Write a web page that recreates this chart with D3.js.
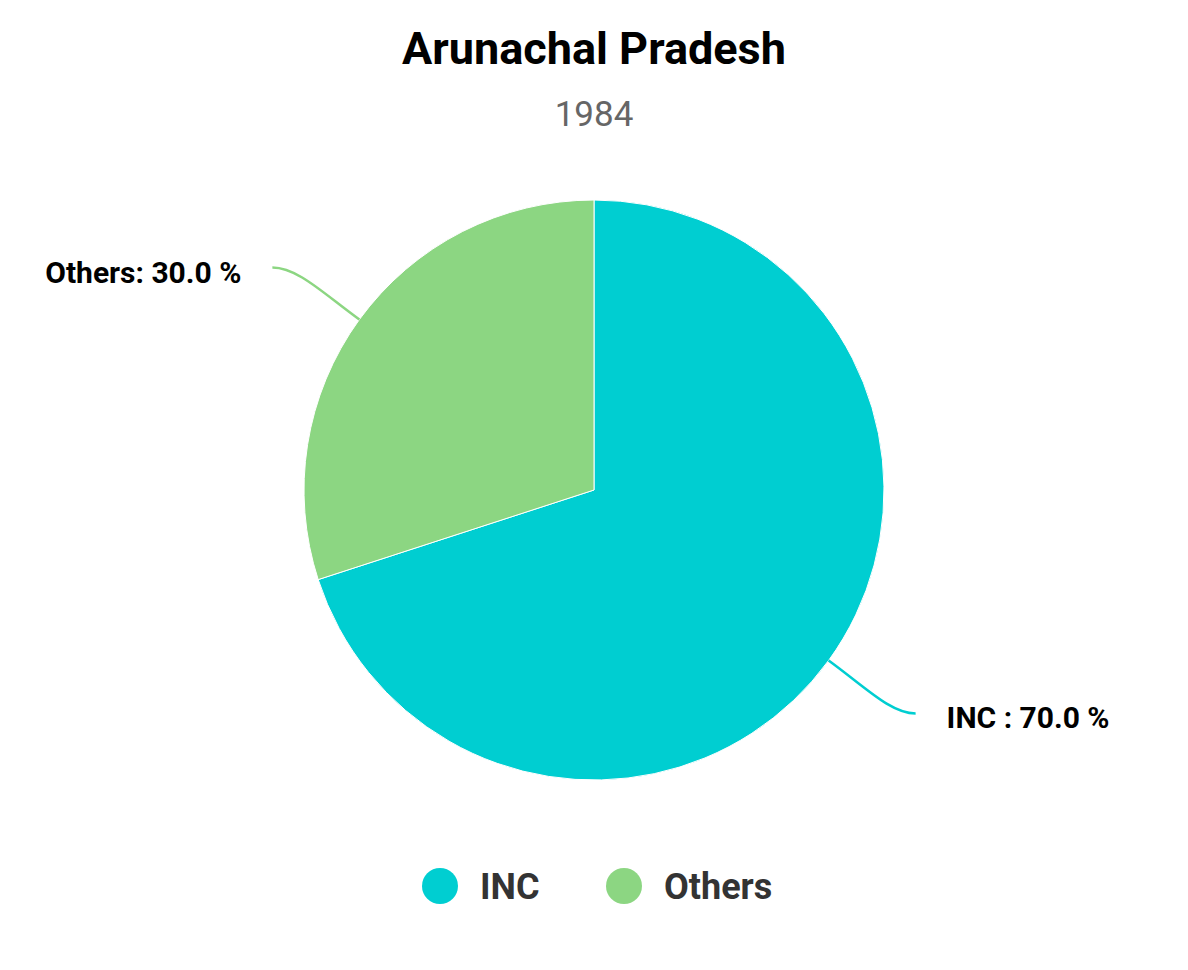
<html>
<head>
<style>
body { margin: 0; background: #fff; }
text { font-family: Roboto, "Noto Sans", sans-serif; }
.title { font-size: 45px; font-weight: bold; fill: #000; }
.subtitle { font-size: 35px; fill: #666; }
.lbl { font-size: 30px; font-weight: bold; fill: #000; }
.leg { font-size: 36px; font-weight: bold; fill: #333; }
</style>
</head>
<body>
<svg width="1188" height="970"></svg>
<script src="https://d3js.org/d3.v7.min.js"></script>
<script>
const parties = ["INC", "Others"]
const shares = [70.0, 30.0]
const colors = ["#00CED1", "#8CD682"]
const labelFmt = ["INC : 70.0 %", "Others: 30.0 %"]

const svg = d3.select('svg')
const cx = 594, cy = 490, r = 290

svg.append('text').attr('class', 'title')
    .attr('x', cx).attr('y', 64).attr('text-anchor', 'middle')
    .text('Arunachal Pradesh')
svg.append('text').attr('class', 'subtitle')
    .attr('x', cx).attr('y', 126).attr('text-anchor', 'middle')
    .text('1984')

const data = parties.map((p, i) => ({ party: p, value: shares[i], color: colors[i], label: labelFmt[i] }))

const pie = d3.pie().value(d => d.value).sort(null)
const arc = d3.arc().innerRadius(0).outerRadius(r)
const arcs = pie(data)

const g = svg.append('g').attr('transform', `translate(${cx},${cy})`)

g.selectAll('.slice')
    .data(arcs)
    .enter().append('path')
    .attr('class', 'slice')
    .attr('d', arc)
    .attr('fill', d => d.data.color)
    .attr('stroke', '#fff')
    .attr('stroke-width', 1)

// connector lines + labels
arcs.forEach(a => {
    const mid = (a.startAngle + a.endAngle) / 2
    const sx = Math.sin(mid), sy = -Math.cos(mid)
    const x0 = sx * r, y0 = sy * r
    const side = sx >= 0 ? 1 : -1
    const ex = x0 + side * 87
    const ey = y0 + (sy > 0 ? 53 : -52)
    const path = d3.path()
    path.moveTo(x0, y0)
    path.bezierCurveTo(x0 + sx * 45, y0 + sy * 45, ex - side * 25, ey, ex, ey)
    g.append('path')
        .attr('d', path.toString())
        .attr('fill', 'none')
        .attr('stroke', a.data.color)
        .attr('stroke-width', 2.5)
    g.append('text').attr('class', 'lbl')
        .attr('x', ex + side * 31)
        .attr('y', ey + 15)
        .attr('text-anchor', side > 0 ? 'start' : 'end')
        .text(a.data.label)
})

// legend
const legX = [440, 624]
const leg = svg.append('g')
data.forEach((d, i) => {
    leg.append('circle').attr('cx', legX[i]).attr('cy', 886).attr('r', 18).attr('fill', d.color)
    leg.append('text').attr('class', 'leg')
        .attr('x', legX[i] + 40).attr('y', 899)
        .text(d.party)
})
</script>
</body>
</html>
